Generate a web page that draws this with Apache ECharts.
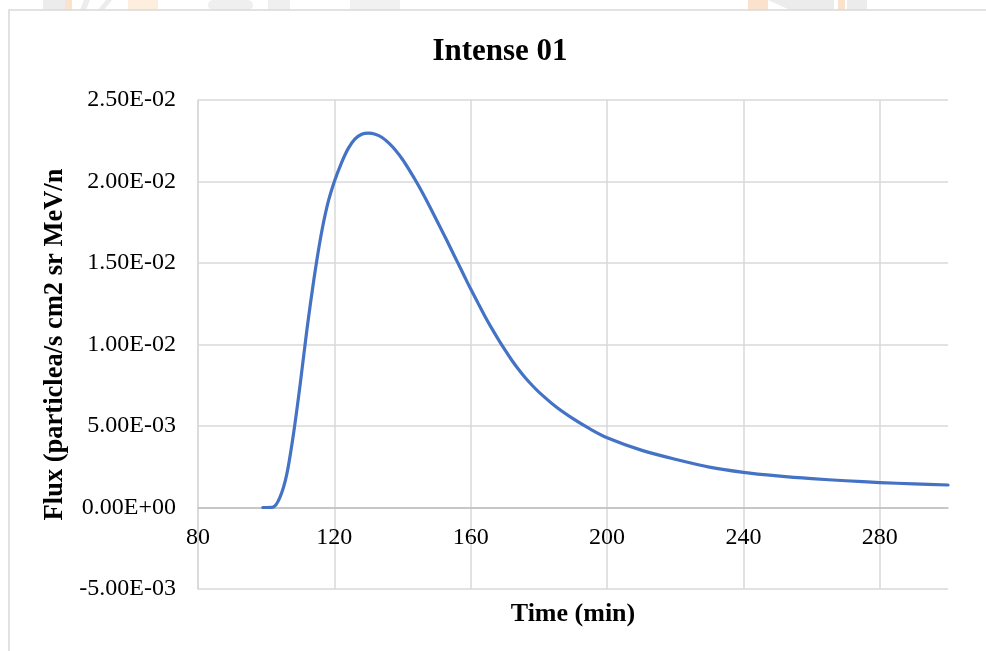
<!DOCTYPE html>
<html>
<head>
<meta charset="utf-8">
<title>Intense 01</title>
<script src="https://cdn.jsdelivr.net/npm/echarts@6/dist/echarts.min.js"></script>
<style>
  html, body { margin: 0; padding: 0; background: #ffffff; }
  #chart { width: 986px; height: 651px; }
</style>
</head>
<body>
<div id="chart"></div>
<script>
// Time after onset (min)
const timeMin = [
  99, 100, 102, 104, 106, 108, 110, 112, 114, 116, 118, 120,
  122, 124, 126, 128, 130, 132, 134, 136, 138, 140,
  142, 144, 146, 148, 150, 152, 154, 156, 158, 160,
  162, 164, 166, 168, 170, 172, 174, 176, 178, 180,
  185, 190, 195, 200, 210, 220, 230, 240, 250, 260, 270, 280, 290, 300
];
// Proton flux (particles/s cm2 sr MeV/n)
const flux = [
  0, 0, 0.00002, 0.0006, 0.0020, 0.0045, 0.0076, 0.0110, 0.0140, 0.0166, 0.0186, 0.0200,
  0.0211, 0.0220, 0.02260, 0.02290, 0.02297, 0.02290, 0.02270, 0.02235, 0.02190, 0.02135,
  0.02070, 0.02000, 0.01925, 0.01845, 0.01762, 0.01680, 0.01595, 0.01510, 0.01425, 0.01340,
  0.01260, 0.01180, 0.01105, 0.01035, 0.00968, 0.00905, 0.00848, 0.00796, 0.00750, 0.00708,
  0.00618, 0.00545, 0.00482, 0.00428, 0.00352, 0.00296, 0.00248, 0.00216, 0.00194, 0.00177,
  0.00164, 0.00153, 0.00145, 0.00138
];
// Axis ticks
const xTicks = { min: 80, max: 300, step: 40 };
const yTicks = { min: -0.005, max: 0.025, step: 0.005 };

const chartTitle = 'Intense 01';
const xName = 'Time (min)';
const yName = 'Flux (particlea/s cm2 sr MeV/n';

const serif = '"Liberation Serif", "Times New Roman", serif';

// Excel-like scientific notation: 2.50E-02
function sci(v) {
  if (Math.abs(v) < 1e-12) return '0.00E+00';
  const s = v.toExponential(2).toUpperCase();
  const m = s.match(/^(-?[\d.]+)E([+-])(\d+)$/);
  return m[1] + 'E' + m[2] + m[3].padStart(2, '0');
}

const chart = echarts.init(document.getElementById('chart'), null, { renderer: 'canvas' });

const points = timeMin.map((t, i) => [t, flux[i]]);

// the horizontal axis crosses the vertical one at zero: lift it by one y step
const gridTop = 100, gridBottom = 62, plotH = 651 - gridTop - gridBottom;
const zeroLift = plotH * (0 - yTicks.min) / (yTicks.max - yTicks.min);

chart.setOption({
  backgroundColor: '#ffffff',
  animation: false,
  title: {
    text: chartTitle,
    left: 495,
    top: 31,
    textAlign: 'center',
    textStyle: { fontFamily: serif, fontWeight: 'bold', fontSize: 31, color: '#000000' }
  },
  graphic: [
    // faint page artwork above the chart frame
    { type: 'rect', shape: { x: 43, y: 0, width: 24, height: 10 }, style: { fill: '#ececec' }, silent: true },
    { type: 'rect', shape: { x: 65, y: 0, width: 7, height: 10 }, style: { fill: '#fbe2cc' }, silent: true },
    { type: 'polygon', shape: { points: [[84, 0], [90, 0], [86, 10], [80, 10]] }, style: { fill: '#ececec' }, silent: true },
    { type: 'polygon', shape: { points: [[106, 0], [112, 0], [104, 10], [98, 10]] }, style: { fill: '#ececec' }, silent: true },
    { type: 'rect', shape: { x: 128, y: 0, width: 30, height: 10 }, style: { fill: '#fdeede' }, silent: true },
    { type: 'rect', shape: { x: 208, y: 0, width: 45, height: 10, r: 5 }, style: { fill: '#efefef' }, silent: true },
    { type: 'rect', shape: { x: 268, y: 0, width: 22, height: 10 }, style: { fill: '#efefef' }, silent: true },
    { type: 'rect', shape: { x: 350, y: 0, width: 50, height: 10 }, style: { fill: '#f1f1f1' }, silent: true },
    { type: 'rect', shape: { x: 748, y: 0, width: 20, height: 10 }, style: { fill: '#fbe2cc' }, silent: true },
    { type: 'polygon', shape: { points: [[768, 0], [834, 0], [834, 10], [790, 10]] }, style: { fill: '#ececec' }, silent: true },
    { type: 'rect', shape: { x: 838, y: 0, width: 7, height: 10 }, style: { fill: '#fbe2cc' }, silent: true },
    { type: 'rect', shape: { x: 847, y: 0, width: 20, height: 10 }, style: { fill: '#ececec' }, silent: true },
    // chart frame
    {
      type: 'rect',
      shape: { x: 9, y: 10, width: 990, height: 660 },
      style: { fill: 'none', stroke: '#d9d9d9', lineWidth: 1.5 },
      silent: true
    }
  ],
  grid: {
    left: 198,
    right: 38,
    top: gridTop,
    bottom: gridBottom,
    containLabel: false,
    outerBoundsMode: 'none'
  },
  xAxis: {
    type: 'value',
    min: xTicks.min,
    max: xTicks.max,
    interval: xTicks.step,
    offset: -zeroLift,
    name: xName,
    nameLocation: 'middle',
    nameGap: 94,
    nameTextStyle: { fontFamily: serif, fontWeight: 'bold', fontSize: 26, color: '#000000' },
    axisLine: { show: true, onZero: false, lineStyle: { color: '#bfbfbf', width: 1.5 } },
    axisTick: { show: false },
    axisLabel: {
      fontFamily: serif, fontSize: 24, color: '#000000', margin: 18,
      showMaxLabel: false
    },
    splitLine: { show: true, showMaxLine: false, lineStyle: { color: '#d9d9d9', width: 1.5 } }
  },
  yAxis: {
    type: 'value',
    min: yTicks.min,
    max: yTicks.max,
    interval: yTicks.step,
    name: yName,
    nameLocation: 'middle',
    nameRotate: 90,
    nameGap: 122,
    nameTextStyle: { fontFamily: serif, fontWeight: 'bold', fontSize: 26.5, color: '#000000' },
    axisLine: { show: true, lineStyle: { color: '#d9d9d9', width: 1.5 } },
    axisTick: { show: false },
    axisLabel: {
      fontFamily: serif, fontSize: 24, color: '#000000', margin: 22,
      formatter: sci
    },
    splitLine: { show: true, lineStyle: { color: '#d9d9d9', width: 1.5 } }
  },
  series: [{
    type: 'line',
    data: points,
    showSymbol: false,
    symbol: 'none',
    smooth: 0.3,
    lineStyle: { color: '#4472C4', width: 3.2, cap: 'round', join: 'round' },
    clip: true
  }]
});
</script>
</body>
</html>
